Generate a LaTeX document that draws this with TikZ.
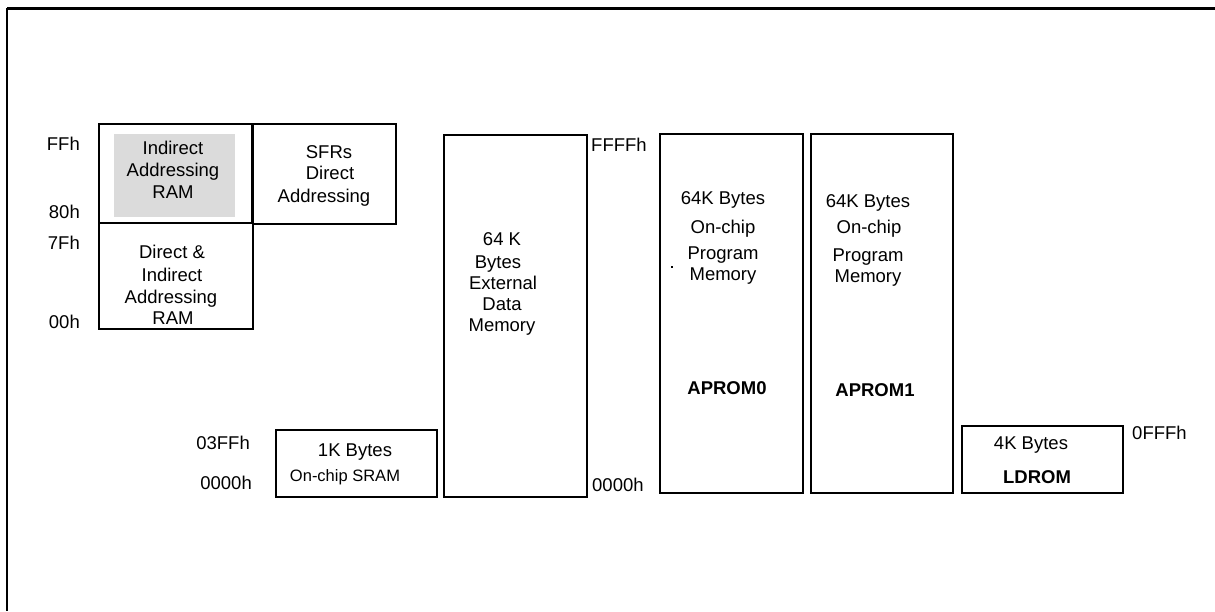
\documentclass[tikz,border=0pt]{standalone}
\usepackage{fontspec}
\setmainfont{Liberation Sans}
\begin{document}
\begin{tikzpicture}[x=1pt,y=-1pt,
  box/.style={draw, line width=1.6pt, inner sep=0pt},
  lbl/.style={inner sep=0pt, text height=13.3pt, text depth=0pt, font=\fontsize{18.5}{22}\selectfont},
  small/.style={inner sep=0pt, text height=11.9pt, text depth=0pt, font=\fontsize{16.5}{20}\selectfont},
  bold/.style={lbl, font=\fontsize{18.5}{22}\selectfont\bfseries}]
\useasboundingbox (0,0) rectangle (1215,611);
% frame
\draw[line width=2.2pt] (1215,8.5) -- (7,8.5);
\draw[line width=1.6pt] (7,7.5) -- (7,611);
% boxes
\node[fill=black!14, inner sep=0pt, minimum width=121pt, minimum height=83pt] (indfill) at (174.5,175.5) {};
\node[box, minimum width=153pt, minimum height=99pt] (ind) at (175.5,173.5) {};
\node[box, minimum width=143pt, minimum height=100pt] (sfr) at (324.5,174) {};
\node[box, minimum width=154pt, minimum height=106pt] (dir) at (176,276) {};
\node[box, minimum width=143pt, minimum height=362pt] (ext) at (515.5,316) {};
\node[box, minimum width=143pt, minimum height=359pt] (ap0) at (731.5,313.5) {};
\node[box, minimum width=142pt, minimum height=359pt] (ap1) at (882,313.5) {};
\node[box, minimum width=161pt, minimum height=67pt] (sram) at (356.5,463.5) {};
\node[box, minimum width=161pt, minimum height=67pt] (ld) at (1042.5,459.5) {};
% indirect RAM texts
\node[lbl] (t1) at (173,148) {Indirect};
\node[lbl] (t2) at (173,170) {Addressing};
\node[lbl] (t3) at (173,192) {RAM};
% SFR texts
\node[lbl] (t4) at (329,152) {SFRs};
\node[lbl] (t5) at (330,173) {Direct};
\node[lbl] (t6) at (324,196) {Addressing};
% direct RAM texts
\node[lbl] (t7) at (172,252) {Direct \&};
\node[lbl] (t8) at (172,275) {Indirect};
\node[lbl] (t9) at (171,297) {Addressing};
\node[lbl] (t10) at (173,318) {RAM};
% left addresses
\node[lbl, anchor=east] (aFF) at (80,144) {FFh};
\node[lbl, anchor=east] (a80) at (80,212) {80h};
\node[lbl, anchor=east] (a7F) at (80,243) {7Fh};
\node[lbl, anchor=east] (a00) at (80,322) {00h};
% external data memory
\node[lbl] (e1) at (502,239) {64 K};
\node[lbl] (e2) at (498,262) {Bytes};
\node[lbl] (e3) at (503,283) {External};
\node[lbl] (e4) at (502,304) {Data};
\node[lbl] (e5) at (502,325) {Memory};
\node[lbl, anchor=west] (aFFFF) at (591,145) {FFFFh};
\node[lbl, anchor=west] (a0000b) at (592,485) {0000h};
% APROM0
\node[lbl] (p1) at (723,198) {64K Bytes};
\node[lbl] (p2) at (723,227) {On-chip};
\node[lbl] (p3) at (723,253) {Program};
\node[lbl] (p4) at (723,274) {Memory};
\node[bold] (p5) at (727,388) {APROM0};
\fill (671,266) rectangle (673,268);
% APROM1
\node[lbl] (q1) at (868,201) {64K Bytes};
\node[lbl] (q2) at (869,227) {On-chip};
\node[lbl] (q3) at (868,255) {Program};
\node[lbl] (q4) at (868,276) {Memory};
\node[bold] (q5) at (875,390) {APROM1};
% SRAM
\node[lbl, anchor=east] (a03FF) at (250,443) {03FFh};
\node[lbl, anchor=east] (a0000a) at (252,483) {0000h};
\node[lbl] (s1) at (355,450) {1K Bytes};
\node[small] (s2) at (345,476) {On-chip SRAM};
% LDROM
\node[lbl] (l1) at (1031,443) {4K Bytes};
\node[bold] (l2) at (1037,477) {LDROM};
\node[lbl, anchor=west] (a0FFF) at (1132,433) {0FFFh};
\end{tikzpicture}
\end{document}
